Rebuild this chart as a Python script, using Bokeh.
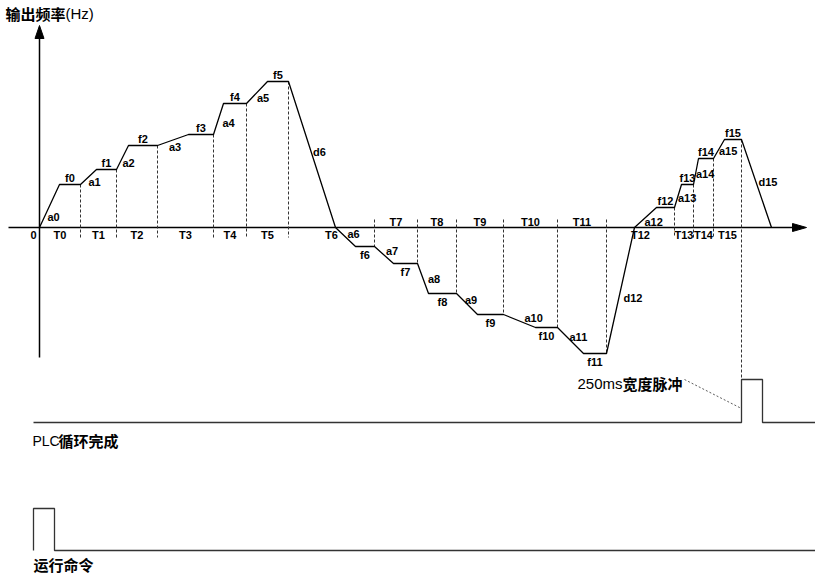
from bokeh.plotting import figure
from bokeh.models import Range1d
from bokeh.core.properties import value
from bokeh.embed import file_html
from bokeh.resources import INLINE

# ---------------- data (time / frequency units) ----------------
seg_labels = ["T0", "T1", "T2", "T3", "T4", "T5", "T6", "T7",
              "T8", "T9", "T10", "T11", "T12", "T13", "T14", "T15"]
seg_end_t = [41, 77, 118, 174, 207, 249, 335, 378, 417, 464, 518, 567, 635, 654, 674, 702]

freq_labels = ["f0", "f1", "f2", "f3", "f4", "f5", "f6", "f7",
               "f8", "f9", "f10", "f11", "f12", "f13", "f14", "f15"]
freq_levels = [43, 58, 82, 93, 124, 146, -19, -36, -66, -87, -100, -126, 20, 43, 69, 88]

accel_labels = ["a0", "a1", "a2", "a3", "a4", "a5", "a6", "a7",
                "a8", "a9", "a10", "a11", "a12", "a13", "a14", "a15"]
accel_times = [20, 16, 12, 31, 10, 21, 20, 19, 11, 21, 32, 26, 22, 7, 5, 11]

decel_labels = ["d6", "d12", "d15"]
decel_segments = [6, 12, 16]      # decel to zero happens at start of these segments (16 = after T15)
decel_times = [47, 28, 30]

pulse_width = 21                  # 250 ms pulse
pulse_height = 43
plc_level = -195                  # PLC cycle-complete trace baseline
run_level = -323                  # run command trace baseline

# ---------------- build the profile ----------------
pts_t, pts_f = [0], [0]
ramps = []   # (label, t0, f0, t1, f1)
holds = []   # (label, t0, t1, f)
t, f = 0, 0
for i in range(16):
    if i in decel_segments:
        k = decel_segments.index(i)
        t1 = t + decel_times[k]
        ramps.append((decel_labels[k], t, f, t1, 0))
        t, f = t1, 0
        pts_t.append(t); pts_f.append(f)
    t1 = t + accel_times[i]
    ramps.append((accel_labels[i], t, f, t1, freq_levels[i]))
    t, f = t1, freq_levels[i]
    pts_t.append(t); pts_f.append(f)
    holds.append((freq_labels[i], t, seg_end_t[i], f))
    t = seg_end_t[i]
    pts_t.append(t); pts_f.append(f)
k = decel_segments.index(16)
t1 = t + decel_times[k]
ramps.append((decel_labels[k], t, f, t1, 0))
pts_t.append(t1); pts_f.append(0)

# ---------------- figure ----------------
p = figure(width=815, height=574, x_range=Range1d(-39, 776), y_range=Range1d(-347, 227),
           output_backend="svg", toolbar_location=None, min_border=0,
           x_axis_type=None, y_axis_type=None, outline_line_color=None,
           background_fill_color="white", border_fill_color="white")

# axes
p.segment(x0=[-31, 0], y0=[0, -130], x1=[753, 0], y1=[0, 189],
          line_color="black", line_width=1.5)
p.patch([753, 767, 753], [4, 0, -4], fill_color="black", line_color="black")
p.patch([-4.5, 0, 4.5], [189, 202, 189], fill_color="black", line_color="black")

# dashed segment boundaries
dx0, dy0, dx1, dy1 = [], [], [], []
for i, te in enumerate(seg_end_t):
    lvl = freq_levels[i]
    if i == len(seg_end_t) - 1:
        dx0.append(te); dy0.append(lvl); dx1.append(te); dy1.append(plc_level + pulse_height)
    elif lvl > 0:
        dx0.append(te); dy0.append(lvl); dx1.append(te); dy1.append(-10)
    else:
        dx0.append(te); dy0.append(8); dx1.append(te); dy1.append(lvl)
p.segment(x0=dx0, y0=dy0, x1=dx1, y1=dy1, line_color="#333333", line_width=1, line_dash="3 2")

# frequency profile
p.line(pts_t, pts_f, line_color="black", line_width=1.3)

lab = dict(text_font=value("Liberation Sans"), text_font_style="bold",
           text_font_size="11px", text_color="black", text_baseline="middle")

# f labels
fx = [(h[1] + h[2]) / 2 for h in holds]
fy = [h[3] + (7 if h[3] > 0 else -8) for h in holds]
p.text(fx, fy, text=[h[0] for h in holds], text_align="center", **lab)

# ramp labels (left aligned at ramp midpoint, small vertical nudges)
nudge = {"a0": (-2, -11), "a1": (0, -5), "a2": (0, -5), "a3": (-4, -7), "a4": (4, -4),
         "a5": (0, -5), "d6": (1, 3), "a6": (2, 3), "a7": (2, 4), "a8": (5, 0),
         "a9": (-2, 4), "a10": (5, 3), "a11": (-1, 4), "d12": (3, -7), "a12": (-1, -4),
         "a13": (0, -2), "a14": (0, -2), "a15": (0, -2), "d15": (2, 2)}
rx = [(r[1] + r[3]) / 2 + nudge[r[0]][0] for r in ramps]
ry = [(r[2] + r[4]) / 2 + nudge[r[0]][1] for r in ramps]
p.text(rx, ry, text=[r[0] for r in ramps], text_align="left", **lab)

# T labels
starts = [0] + seg_end_t[:-1]
tx = [(a + b) / 2 for a, b in zip(starts, seg_end_t)]
ty = [-7 if lv > 0 or i == 6 else 6 for i, lv in enumerate(freq_levels)]
p.text(tx, ty, text=seg_labels, text_align="center", **lab)
p.text([-6], [-7], text=["0"], text_align="center", **lab)

# title
cjk = dict(text_font=value("Noto Sans CJK SC"), text_font_style="bold",
           text_font_size="15px", text_color="black", text_baseline="middle")
latin = dict(text_font=value("Liberation Sans"), text_font_style="normal",
             text_font_size="15px", text_color="black", text_baseline="middle")
p.text([-34], [214], text=["输出频率"], text_align="left", **cjk)
p.text([26], [214], text=["(Hz)"], text_align="left", **latin)

# PLC cycle complete trace
end_t = seg_end_t[-1]
p.line([-6, end_t, end_t, end_t + pulse_width, end_t + pulse_width, 778],
       [plc_level, plc_level, plc_level + pulse_height, plc_level + pulse_height, plc_level, plc_level],
       line_color="#333333", line_width=1.3)
p.text([-7], [plc_level - 18], text=["PLC"], text_align="left", **{**latin, "text_font_size": "14px"})
p.text([19], [plc_level - 18], text=["循环完成"], text_align="left", **cjk)

# run command trace
p.line([-6, -6, -6 + pulse_width, -6 + pulse_width, 778],
       [run_level, run_level + 42, run_level + 42, run_level, run_level],
       line_color="#333333", line_width=1.3)
p.text([-6], [run_level - 14], text=["运行命令"], text_align="left", **cjk)

# pulse annotation
p.segment(x0=[645], y0=[-152], x1=[end_t], y1=[-181], line_color="#333333",
          line_width=0.8, line_dash="2 2")
p.text([583], [-156], text=["250ms"], text_align="right", **latin)
p.text([643], [-156], text=["宽度脉冲"], text_align="right", **cjk)

open("out.html", "w").write(file_html(p, INLINE))
